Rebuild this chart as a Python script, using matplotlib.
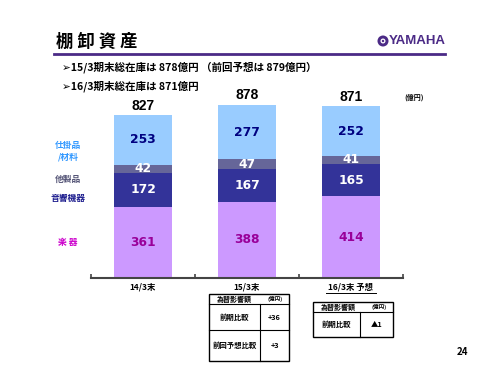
import matplotlib
matplotlib.use("Agg")
import matplotlib.pyplot as plt
from matplotlib.patches import Rectangle, Circle
import numpy as np

plt.rcParams['font.family'] = ['Noto Sans CJK JP', 'DejaVu Sans']

# ---- data ----
categories = ["14/3末", "15/3末", "16/3末 予想"]
series_names = ["楽 器", "音響機器", "他製品", "仕掛品\n/材料"]
gakki = [361, 388, 414]
onkyo = [172, 167, 165]
taseihin = [42, 47, 41]
shikake = [253, 277, 252]
totals = [827, 878, 871]

colors = ["#CC99FF", "#333399", "#666699", "#99CCFF"]
text_colors = ["#990099", "#FFFFFF", "#FFFFFF", "#000080"]
legend_colors = ["#CC00CC", "#1F1F8F", "#555577", "#3399FF"]

W, H = 500, 375
fig = plt.figure(figsize=(5, 3.75), dpi=100)
fig.patch.set_facecolor("white")

def fx(px):
    return px / W

def fy(py):
    return 1 - py / H

# ---- bar axes ----
ax_left, ax_right = 91, 403
ax_top, ax_bottom = 90, 278
scale = 0.197  # px per unit
ymax = (ax_bottom - ax_top) / scale
ax = fig.add_axes([fx(ax_left), fy(ax_bottom), (ax_right - ax_left) / W, (ax_bottom - ax_top) / H])
ax.set_xlim(-0.5, 2.5)
ax.set_ylim(0, ymax)
ax.patch.set_alpha(0)
for s in ["top", "right", "left"]:
    ax.spines[s].set_visible(False)
ax.spines["bottom"].set_color("#444444")
ax.spines["bottom"].set_linewidth(1.5)
ax.set_yticks([])
ax.set_xticks([-0.5, 0.5, 1.5, 2.5])
ax.set_xticklabels([])
ax.tick_params(axis="x", direction="in", length=3, width=1.2, color="#444444")

x = np.arange(len(categories))
series = [gakki, onkyo, taseihin, shikake]
bottom = np.zeros(len(categories))
for vals, c, tc in zip(series, colors, text_colors):
    v = np.array(vals, dtype=float)
    ax.bar(x, v, bottom=bottom, width=0.55, color=c, edgecolor="none", zorder=2)
    for xi, b, val in zip(x, bottom, v):
        ax.text(xi, b + val / 2, f"{int(val)}", ha="center", va="center",
                fontsize=8.8, fontweight="bold", color=tc, family="DejaVu Sans", zorder=3)
    bottom += v

for xi, tot, b in zip(x, totals, bottom):
    ax.text(xi, b + 12, f"{tot}", ha="center", va="bottom", fontsize=10,
            fontweight="bold", color="black", family="Liberation Sans")

# ---- overlay for page text ----
ov = fig.add_axes([0, 0, 1, 1])
ov.set_xlim(0, W)
ov.set_ylim(H, 0)
ov.axis("off")
ov.patch.set_alpha(0)

purple = "#4B2A86"
ov.text(56, 42, "棚 卸 資 産", fontsize=12.5, fontweight="bold", va="center", ha="left", color="black")
ov.plot([54, 445], [54, 54], color=purple, lw=2)

# YAMAHA logo
ov.add_patch(Circle((383, 41), 5.5, facecolor=purple, edgecolor="none"))
ov.add_patch(Circle((383, 41), 2.5, facecolor="white", edgecolor="none"))
ov.add_patch(Circle((383, 41), 1.2, facecolor=purple, edgecolor="none"))
ov.text(389, 41.5, "YAMAHA", fontsize=9.5, fontweight="bold", va="center", ha="left",
        color=purple, family="Liberation Sans")

ov.text(62, 67, "➢15/3期末総在庫は 878億円 （前回予想は 879億円）", fontsize=7.6,
        fontweight="bold", va="center", ha="left", color="black")
ov.text(62, 86, "➢16/3期末総在庫は 871億円", fontsize=7.6,
        fontweight="bold", va="center", ha="left", color="black")
ov.text(404, 97, "(億円)", fontsize=5, fontweight="bold", va="center", ha="left")

# legend labels at left
legend_y = [243, 199, 179, 151]
for name, c, ly in zip(series_names, legend_colors, legend_y):
    ov.text(68, ly, name, fontsize=6.3, fontweight="bold", va="center", ha="center",
            color=c, linespacing=1.4)

# category labels
cat_px = [143, 247, 351]
for cx, lab in zip(cat_px, categories):
    ov.text(cx, 287, lab, fontsize=6, fontweight="bold", va="center", ha="center")
ov.plot([326, 376], [292.5, 292.5], color="black", lw=0.7)

# tables
def draw_table(x0, x1, xdiv, ys, rows):
    ov.add_patch(Rectangle((x0, ys[0]), x1 - x0, ys[-1] - ys[0], fill=False, edgecolor="black", lw=1))
    for yy in ys[1:-1]:
        ov.plot([x0, x1], [yy, yy], color="black", lw=0.8)
    ov.plot([xdiv, xdiv], [ys[1], ys[-1]], color="black", lw=0.8)
    hy = (ys[0] + ys[1]) / 2
    ov.text(x0 + 25, hy, "為替影響額", fontsize=5, fontweight="bold", va="center", ha="center")
    ov.text(x1 - 14, hy, "(億円)", fontsize=4, fontweight="bold", va="center", ha="center")
    for (lab, val), ya, yb in zip(rows, ys[1:-1], ys[2:]):
        my = (ya + yb) / 2
        ov.text((x0 + xdiv) / 2, my, lab, fontsize=5.3, fontweight="bold", va="center", ha="center")
        ov.text((xdiv + x1) / 2, my, val, fontsize=5.3, fontweight="bold", va="center", ha="center")

draw_table(209, 289, 260, [294, 304, 330, 361], [("前期比較", "+36"), ("前回予想比較", "+3")])
draw_table(313, 393, 360, [302, 312, 337], [("前期比較", "▲1")])

ov.text(462, 352, "24", fontsize=7, fontweight="bold", va="center", ha="center")

fig.savefig("out.png", dpi=100)
